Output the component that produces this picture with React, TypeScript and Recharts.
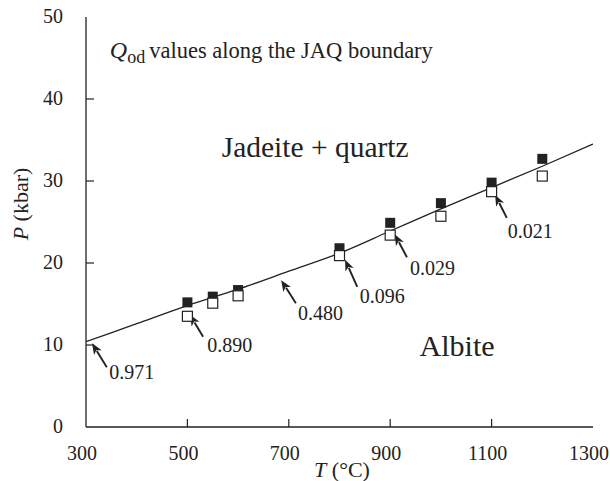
import { ComposedChart, Line, Scatter, XAxis, YAxis, ReferenceLine, ReferenceDot } from 'recharts'

const boundaryT = [300, 400, 500, 600, 700, 800, 900, 1000, 1100, 1200, 1300]
const boundaryP = [10.4, 12.6, 14.8, 16.8, 19.0, 21.2, 23.9, 26.6, 29.2, 31.8, 34.5]

const sampleT = [500, 550, 600, 800, 900, 1000, 1100, 1200]
const filledP = [15.2, 15.9, 16.7, 21.8, 24.9, 27.3, 29.8, 32.7]
const openP = [13.5, 15.1, 16.0, 20.9, 23.4, 25.7, 28.7, 30.6]

const qodLabels = ['0.971', '0.890', '0.480', '0.096', '0.029', '0.021']
const arrowHeadT = [312, 505, 685, 811, 909, 1107]
const arrowHeadP = [10.2, 13.7, 17.9, 20.4, 23.5, 28.3]
const arrowTailT = [341, 531, 714, 835, 933, 1130]
const arrowTailP = [7.3, 11.0, 15.1, 17.1, 20.7, 25.5]
const labelT = [346, 539, 718, 840, 939, 1132]
const labelP = [6.7, 10.0, 13.9, 15.9, 19.4, 23.8]

const xTicks = [300, 500, 700, 900, 1100, 1300]
const yTicks = [0, 10, 20, 30, 40, 50]

const FONT = '"Liberation Serif", "DejaVu Serif", serif'
const INK = '#222'

const boundary = boundaryT.map((T, i) => ({ T, P: boundaryP[i] }))
const filled = sampleT.map((T, i) => ({ T, P: filledP[i] }))
const open = sampleT.map((T, i) => ({ T, P: openP[i] }))

const BottomTick = (props: any) => {
  const { x, y, payload } = props
  const v = payload.value
  return (
    <g>
      {v > 300 && v < 1300 && <line x1={x} y1={y} x2={x} y2={y - 8} stroke={INK} strokeWidth={1.2} />}
      <text x={x - 4} y={y + 33} textAnchor="middle" fontSize={20} fontFamily={FONT} fill={INK}>{v}</text>
    </g>
  )
}

const TopTick = (props: any) => {
  const { x, y, payload } = props
  const v = payload.value
  if (v <= 300 || v >= 1300) return <g />
  return <line x1={x} y1={y} x2={x} y2={y + 8} stroke={INK} strokeWidth={1.2} />
}

const LeftTick = (props: any) => {
  const { x, y, payload } = props
  const v = payload.value
  return (
    <g>
      {v > 0 && v < 50 && <line x1={x} y1={y} x2={x + 8} y2={y} stroke={INK} strokeWidth={1.2} />}
      <text x={x - 23} y={y + 6} textAnchor="end" fontSize={20} fontFamily={FONT} fill={INK}>{v}</text>
    </g>
  )
}

const RightTick = (props: any) => {
  const { x, y, payload } = props
  const v = payload.value
  if (v <= 0 || v >= 50) return <g />
  return <line x1={x} y1={y} x2={x - 8} y2={y} stroke={INK} strokeWidth={1.2} />
}

const FilledSquare = (props: any) => (
  <rect x={props.cx - 5} y={props.cy - 5} width={10} height={10} fill={INK} />
)
const OpenSquare = (props: any) => (
  <rect x={props.cx - 5} y={props.cy - 5} width={10} height={10} fill="#fff" stroke={INK} strokeWidth={1.2} />
)

const Arrow = (props: any) => {
  const { x1, y1, x2, y2 } = props
  const dx = x2 - x1
  const dy = y2 - y1
  const len = Math.sqrt(dx * dx + dy * dy)
  const ux = dx / len
  const uy = dy / len
  const hl = 11
  const hw = 4.5
  const bx = x2 - ux * hl
  const by = y2 - uy * hl
  return (
    <g>
      <line x1={x1} y1={y1} x2={bx + ux * 2} y2={by + uy * 2} stroke={INK} strokeWidth={1.9} />
      <polygon
        points={`${x2},${y2} ${bx - uy * hw},${by + ux * hw} ${bx + ux * 3},${by + uy * 3} ${bx + uy * hw},${by - ux * hw}`}
        fill={INK}
      />
    </g>
  )
}

const textShape = (content: any, size: number, anchor: string = 'start') => (p: any) => (
  <text x={p.cx} y={p.cy + size * 0.33} fontSize={size} fontFamily={FONT} fill={INK} textAnchor={anchor}>
    {content}
  </text>
)

export default function App() {
  return (
    <div style={{ position: 'absolute', left: 0, top: 0, background: '#fff' }}>
      <ComposedChart width={610} height={481} margin={{ top: 17, right: 17, left: 26, bottom: 0 }}>
        <XAxis
          xAxisId={0}
          dataKey="T"
          type="number"
          domain={[300, 1300]}
          ticks={xTicks}
          interval={0}
          tickSize={0}
          tickMargin={0}
          tickLine={false}
          tick={<BottomTick />}
          height={54}
          stroke={INK}
          strokeWidth={1.3}
          allowDataOverflow
          label={{
            content: () => (
              <text x={342} y={477} textAnchor="middle" fontSize={22} fontFamily={FONT} fill={INK}>
                <tspan fontStyle="italic">T</tspan> (°C)
              </text>
            ),
          }}
        />
        <XAxis
          xAxisId="top"
          orientation="top"
          type="number"
          domain={[300, 1300]}
          ticks={xTicks}
          interval={0}
          tickSize={0}
          tickMargin={0}
          tickLine={false}
          tick={<TopTick />}
          height={0}
          stroke={INK}
          strokeWidth={1.3}
          allowDataOverflow
        />
        <YAxis
          yAxisId={0}
          type="number"
          domain={[0, 50]}
          ticks={yTicks}
          interval={0}
          tickSize={0}
          tickMargin={0}
          tickLine={false}
          tick={<LeftTick />}
          width={60}
          stroke={INK}
          strokeWidth={1.3}
          allowDataOverflow
          label={{
            content: () => (
              <text
                x={28}
                y={204}
                textAnchor="middle"
                fontSize={22}
                fontFamily={FONT}
                fill={INK}
                transform="rotate(-90 28 204)"
              >
                <tspan fontStyle="italic">P</tspan> (kbar)
              </text>
            ),
          }}
        />
        <YAxis
          yAxisId="right"
          orientation="right"
          type="number"
          domain={[0, 50]}
          ticks={yTicks}
          interval={0}
          tickSize={0}
          tickMargin={0}
          tickLine={false}
          tick={<RightTick />}
          width={0}
          stroke={INK}
          strokeWidth={1.3}
          allowDataOverflow
        />
        <Line
          data={boundary}
          dataKey="P"
          type="monotone"
          stroke={INK}
          strokeWidth={1.3}
          dot={false}
          isAnimationActive={false}
        />
        <Scatter data={filled} dataKey="P" shape={<FilledSquare />} isAnimationActive={false} />
        <Scatter data={open} dataKey="P" shape={<OpenSquare />} isAnimationActive={false} />
        {qodLabels.map((lab, i) => (
          <ReferenceLine
            key={'a' + i}
            segment={[
              { x: arrowTailT[i], y: arrowTailP[i] },
              { x: arrowHeadT[i], y: arrowHeadP[i] },
            ]}
            shape={<Arrow />}
          />
        ))}
        {qodLabels.map((lab, i) => (
          <ReferenceDot key={'l' + i} x={labelT[i]} y={labelP[i]} r={0} shape={textShape(lab, 20)} />
        ))}
        <ReferenceDot x={752} y={34.1} r={0} shape={textShape('Jadeite + quartz', 29.5, 'middle')} />
        <ReferenceDot x={1032} y={9.9} r={0} shape={textShape('Albite', 30, 'middle')} />
        <ReferenceDot
          x={347}
          y={45.7}
          r={0}
          shape={(p: any) => (
            <text x={p.cx} y={p.cy + 6} fontFamily={FONT} fill={INK}>
              <tspan fontSize={24} fontStyle="italic">Q</tspan>
              <tspan fontSize={18} dy={5}>od</tspan>
              <tspan fontSize={22.5} dy={-5} dx={4}>values along the JAQ boundary</tspan>
            </text>
          )}
        />
      </ComposedChart>
    </div>
  )
}
